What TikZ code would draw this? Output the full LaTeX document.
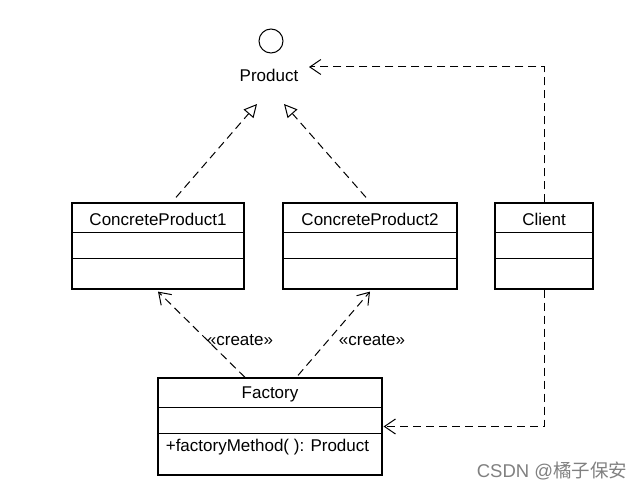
\documentclass[tikz,border=0pt]{standalone}
\usepackage{fontspec}
\setmainfont{Liberation Sans}
\newfontfamily\cjkfont{Noto Sans CJK SC}
\usetikzlibrary{arrows.meta,calc}

\begin{document}
\begin{tikzpicture}[x=1pt,y=-1pt,line width=1pt,
			every node/.style={font=\fontsize{17}{20}\selectfont},
			classbox/.style={draw,line width=1.2pt,inner sep=0pt},
			realize/.style={dash pattern=on 8pt off 5pt,-{Triangle[open,length=13pt,width=13pt]}},
			depend/.style={dash pattern=on 8pt off 5pt,-{Straight Barb[length=11pt,width=15pt]}}]

		\useasboundingbox (0,0) rectangle (639,492);

		% interface
		\node [draw,circle,minimum size=24pt,inner sep=0pt] (iface) at (271,41) {};
		\node (product) at (269,75) {Product};
		\coordinate (r1) at (257,104);
		\coordinate (r2) at (284,104);
		\coordinate (pe) at (309,67);

		% classes
		\node [classbox,minimum width=172pt,minimum height=86pt] (cp1) at (158,246) {};
		\node (cp1name) at (158,219) {ConcreteProduct1};
		\node [classbox,minimum width=174pt,minimum height=86pt] (cp2) at (370,246) {};
		\node (cp2name) at (370,219) {ConcreteProduct2};
		\node [classbox,minimum width=98pt,minimum height=86pt] (cl) at (544,246) {};
		\node (clname) at (544,219) {Client};
		\foreach \c in {cp1,cp2,cl} {
			\draw (\c.west |- 0,232) -- (\c.east |- 0,232);
			\draw (\c.west |- 0,258) -- (\c.east |- 0,258);
		}

		\node [classbox,minimum width=224pt,minimum height=97pt] (fac) at (270,426.5) {};
		\node (facname) at (270,394.5) {Factory};
		\draw (fac.west |- 0,407) -- (fac.east |- 0,407);
		\draw (fac.west |- 0,433) -- (fac.east |- 0,433);
		\node [anchor=west] (facop) at (162,447.5) {+factoryMethod( ): Product};

		% relations
		\draw [realize] ([xshift=18pt,yshift=5pt]cp1.north) -- (r1);
		\draw [realize] ([xshift=-4pt,yshift=5pt]cp2.north) -- (r2);
		\draw [depend] ([xshift=-25pt]fac.north) -- ([yshift=-2pt]cp1.south);
		\draw [depend] ([xshift=28pt,yshift=2pt]fac.north) -- ([yshift=-2pt]cp2.south);
		\node (cr1) at (240,340) {«create»};
		\node (cr2) at (372,340) {«create»};
		\draw [depend] (cl.north) |- (pe);
		\draw [depend] (cl.south) |- ([xshift=1pt]fac.east);

		\node [text=black!50,font=\fontsize{18.5}{22}\selectfont] (mark) at (552,471) {CSDN @\cjkfont 橘子保安};

		\end{tikzpicture}
\end{document}
